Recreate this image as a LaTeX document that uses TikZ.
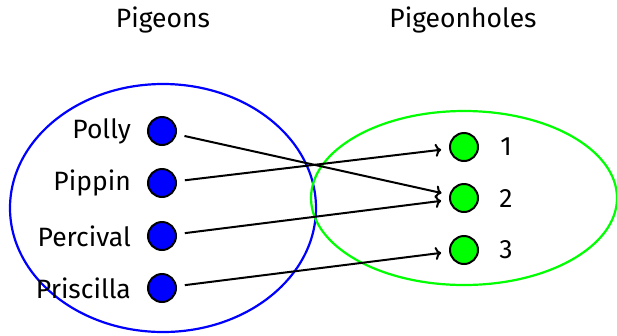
\documentclass[tikz,border=0pt]{standalone}
\usepackage{fontspec}
\setmainfont{Fira Sans}
\usetikzlibrary{arrows.meta}
\begin{document}
\begin{tikzpicture}[x=1pt,y=-1pt,
  lbl/.style={font=\fontsize{26.5}{30}\selectfont, inner sep=0pt},
  pig/.style={circle, draw=black, line width=2pt, fill=blue, minimum size=28pt, inner sep=0pt},
  hole/.style={circle, draw=black, line width=2pt, fill=green, minimum size=28pt, inner sep=0pt},
  conn/.style={line width=2pt, -{To[length=6pt,width=13pt]}, shorten >=8pt, shorten <=8pt}]
\useasboundingbox (0,0) rectangle (617,335);
\draw[blue, line width=2.2pt] (163,208) ellipse [x radius=153, y radius=124];
\draw[green, line width=2.2pt] (464,198) ellipse [x radius=153, y radius=87];
\node[lbl] (t1) at (163,20) {Pigeons};
\node[lbl] (t2) at (463,20) {Pigeonholes};
\node[pig] (p1) at (162,131) {};
\node[pig] (p2) at (162,183) {};
\node[pig] (p3) at (162,236) {};
\node[pig] (p4) at (162,288) {};
\node[lbl, anchor=east] (l1) at (131,131) {Polly};
\node[lbl, anchor=east] (l2) at (131,183) {Pippin};
\node[lbl, anchor=east] (l3) at (131,236) {Percival};
\node[lbl, anchor=east] (l4) at (131,288) {Priscilla};
\node[hole] (h1) at (464,147) {};
\node[hole] (h2) at (464,198) {};
\node[hole] (h3) at (464,250) {};
\node[lbl] (n1) at (506,147) {1};
\node[lbl] (n2) at (506,198) {2};
\node[lbl] (n3) at (506,250) {3};
\draw[conn] (p1) -- (h2);
\draw[conn] (p2) -- (h1);
\draw[conn] (p3) -- (h2);
\draw[conn] (p4) -- (h3);
\end{tikzpicture}
\end{document}
